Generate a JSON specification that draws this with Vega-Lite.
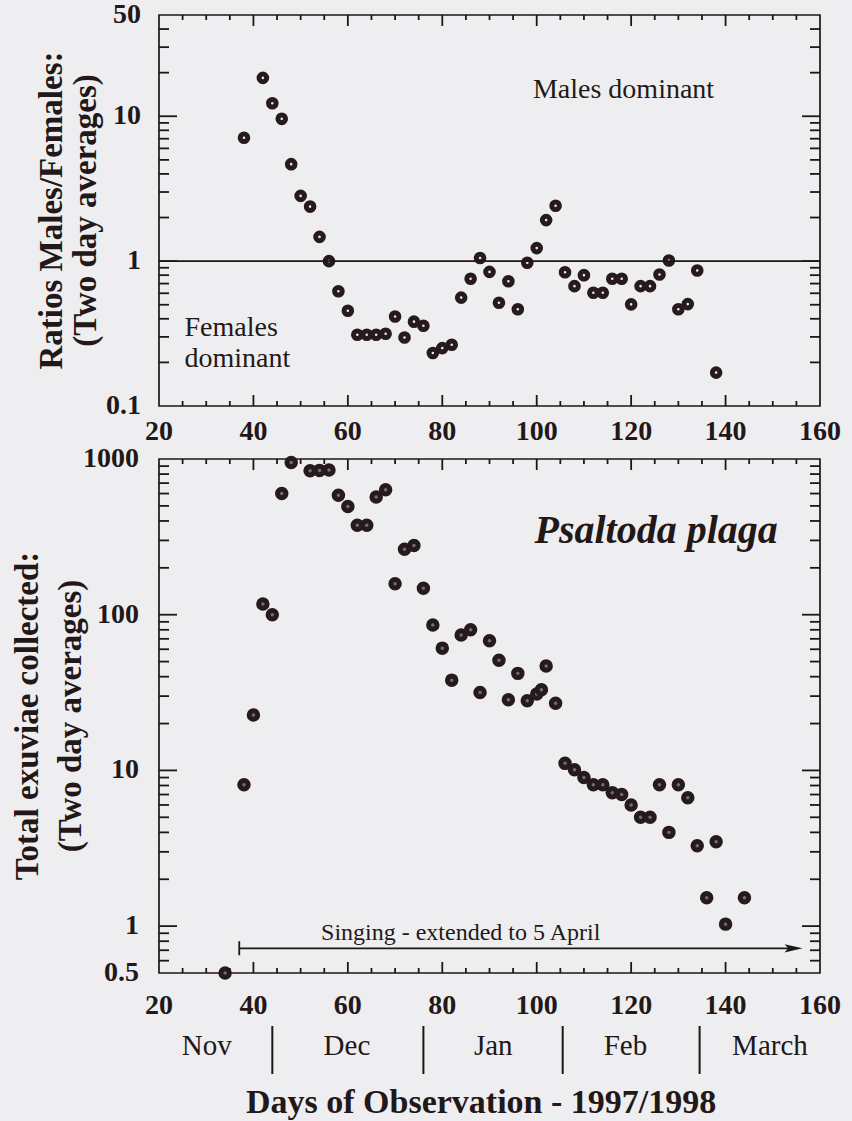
{
  "$schema": "https://vega.github.io/schema/vega-lite/v6.json",
  "autosize": {"type": "none"},
  "padding": {"left": 159, "top": 15, "right": 693, "bottom": 1106},
  "background": "#eeeef0",
  "config": {
    "view": {"stroke": "#1e1616", "strokeWidth": 1.7},
    "font": "Liberation Serif",
    "axis": {
      "domain": false, "ticks": false,
      "labelColor": "#231818", "titleColor": "#231818",
      "labelFont": "Liberation Serif", "titleFont": "Liberation Serif",
      "titleFontSize": 34, "titleFontWeight": "bold", "grid": false
    },
    "rule": {"color": "#1e1616", "strokeWidth": 1.8},
    "text": {"font": "Liberation Serif", "color": "#231818"}
  },
  "datasets": {
    "xmaj": [{"v": 40}, {"v": 60}, {"v": 80}, {"v": 100}, {"v": 120}, {"v": 140}],
    "xmin": [{"v": 25}, {"v": 30}, {"v": 35}, {"v": 45}, {"v": 50}, {"v": 55}, {"v": 65}, {"v": 70}, {"v": 75}, {"v": 85}, {"v": 90}, {"v": 95}, {"v": 105}, {"v": 110}, {"v": 115}, {"v": 125}, {"v": 130}, {"v": 135}, {"v": 145}, {"v": 150}, {"v": 155}],
    "xlab": [{"v": 20}, {"v": 40}, {"v": 60}, {"v": 80}, {"v": 100}, {"v": 120}, {"v": 140}, {"v": 160}],
    "ymajT": [{"v": 1}, {"v": 10}],
    "yminT": [{"v": 0.2}, {"v": 0.3}, {"v": 0.4}, {"v": 0.5}, {"v": 0.6}, {"v": 0.7}, {"v": 0.8}, {"v": 0.9}, {"v": 2}, {"v": 3}, {"v": 4}, {"v": 5}, {"v": 6}, {"v": 7}, {"v": 8}, {"v": 9}, {"v": 20}, {"v": 30}, {"v": 40}],
    "ylabT": [{"v": 0.1}, {"v": 1}, {"v": 10}, {"v": 50}],
    "ymajB": [{"v": 1}, {"v": 10}, {"v": 100}],
    "yminB": [{"v": 0.6}, {"v": 0.7}, {"v": 0.8}, {"v": 0.9}, {"v": 2}, {"v": 3}, {"v": 4}, {"v": 5}, {"v": 6}, {"v": 7}, {"v": 8}, {"v": 9}, {"v": 20}, {"v": 30}, {"v": 40}, {"v": 50}, {"v": 60}, {"v": 70}, {"v": 80}, {"v": 90}, {"v": 200}, {"v": 300}, {"v": 400}, {"v": 500}, {"v": 600}, {"v": 700}, {"v": 800}, {"v": 900}],
    "ylabB": [{"v": 0.5}, {"v": 1}, {"v": 10}, {"v": 100}, {"v": 1000}],
    "ratio": [
      {"day": 38, "ratio": 7.1}, {"day": 42, "ratio": 18.4}, {"day": 44, "ratio": 12.3}, {"day": 46, "ratio": 9.6},
      {"day": 48, "ratio": 4.67}, {"day": 50, "ratio": 2.82}, {"day": 52, "ratio": 2.38}, {"day": 54, "ratio": 1.47},
      {"day": 56, "ratio": 1.0}, {"day": 58, "ratio": 0.62}, {"day": 60, "ratio": 0.454}, {"day": 62, "ratio": 0.31},
      {"day": 64, "ratio": 0.31}, {"day": 66, "ratio": 0.31}, {"day": 68, "ratio": 0.315}, {"day": 70, "ratio": 0.415},
      {"day": 72, "ratio": 0.297}, {"day": 74, "ratio": 0.382}, {"day": 76, "ratio": 0.358}, {"day": 78, "ratio": 0.232},
      {"day": 80, "ratio": 0.251}, {"day": 82, "ratio": 0.265}, {"day": 84, "ratio": 0.56}, {"day": 86, "ratio": 0.755},
      {"day": 88, "ratio": 1.05}, {"day": 90, "ratio": 0.843}, {"day": 92, "ratio": 0.516}, {"day": 94, "ratio": 0.727},
      {"day": 96, "ratio": 0.465}, {"day": 98, "ratio": 0.975}, {"day": 100, "ratio": 1.23}, {"day": 102, "ratio": 1.92},
      {"day": 104, "ratio": 2.41}, {"day": 106, "ratio": 0.838}, {"day": 108, "ratio": 0.672}, {"day": 110, "ratio": 0.8},
      {"day": 112, "ratio": 0.605}, {"day": 114, "ratio": 0.605}, {"day": 116, "ratio": 0.755}, {"day": 118, "ratio": 0.755},
      {"day": 120, "ratio": 0.503}, {"day": 122, "ratio": 0.672}, {"day": 124, "ratio": 0.672}, {"day": 126, "ratio": 0.808},
      {"day": 128, "ratio": 1.01}, {"day": 130, "ratio": 0.465}, {"day": 132, "ratio": 0.505}, {"day": 134, "ratio": 0.862},
      {"day": 138, "ratio": 0.17}
    ],
    "total": [
      {"day": 34, "total": 0.5}, {"day": 38, "total": 8.1}, {"day": 40, "total": 22.7}, {"day": 42, "total": 117},
      {"day": 44, "total": 100}, {"day": 46, "total": 600}, {"day": 48, "total": 950}, {"day": 52, "total": 840},
      {"day": 54, "total": 845}, {"day": 56, "total": 850}, {"day": 58, "total": 585}, {"day": 60, "total": 495},
      {"day": 62, "total": 375}, {"day": 64, "total": 375}, {"day": 66, "total": 570}, {"day": 68, "total": 635},
      {"day": 70, "total": 158}, {"day": 72, "total": 263}, {"day": 74, "total": 278}, {"day": 76, "total": 148},
      {"day": 78, "total": 86}, {"day": 80, "total": 61}, {"day": 82, "total": 38}, {"day": 84, "total": 74},
      {"day": 86, "total": 80}, {"day": 88, "total": 31.7}, {"day": 90, "total": 68}, {"day": 92, "total": 51},
      {"day": 94, "total": 28.4}, {"day": 96, "total": 42}, {"day": 98, "total": 28}, {"day": 100, "total": 31},
      {"day": 101, "total": 33}, {"day": 102, "total": 46.8}, {"day": 104, "total": 27}, {"day": 106, "total": 11.1},
      {"day": 108, "total": 10.1}, {"day": 110, "total": 9.0}, {"day": 112, "total": 8.1}, {"day": 114, "total": 8.1},
      {"day": 116, "total": 7.2}, {"day": 118, "total": 7.0}, {"day": 120, "total": 6.0}, {"day": 122, "total": 5.0},
      {"day": 124, "total": 5.0}, {"day": 126, "total": 8.1}, {"day": 128, "total": 4.0}, {"day": 130, "total": 8.1},
      {"day": 132, "total": 6.67}, {"day": 134, "total": 3.28}, {"day": 136, "total": 1.52}, {"day": 138, "total": 3.48},
      {"day": 140, "total": 1.03}, {"day": 144, "total": 1.52}
    ]
  },
  "bounds": "flush",
  "spacing": 53,
  "vconcat": [
    {
      "width": 661, "height": 391,
      "layer": [
        {
          "data": {"name": "ratio"},
          "mark": {"type": "circle", "size": 58, "fill": "#e6e6e8", "stroke": "#261a1c", "strokeWidth": 5, "opacity": 1},
          "encoding": {
            "x": {"field": "day", "type": "quantitative",
              "scale": {"domain": [20, 160], "nice": false, "zero": false}, "axis": null},
            "y": {"field": "ratio", "type": "quantitative",
              "scale": {"type": "log", "domain": [0.1, 50], "nice": false}, "axis": null}
          }
        },
        {"data": {"name": "xlab"}, "mark": {"type": "text", "fontSize": 28, "fontWeight": "bold", "align": "center", "baseline": "top", "yOffset": 12},
          "encoding": {"x": {"field": "v", "type": "quantitative", "axis": null}, "y": {"datum": 0.1, "type": "quantitative", "axis": null},
            "text": {"field": "v", "type": "quantitative", "format": "d"}}},
        {"data": {"name": "ylabT"}, "mark": {"type": "text", "fontSize": 28, "fontWeight": "bold", "align": "right", "baseline": "middle", "xOffset": -18},
          "encoding": {"y": {"field": "v", "type": "quantitative", "axis": null}, "x": {"datum": 20, "type": "quantitative", "axis": null},
            "text": {"field": "v", "type": "quantitative", "format": "~g"}}},
        {"data": {"values": [{"v": 2.236}]},
          "mark": {"type": "text", "fontSize": 33, "fontWeight": "bold", "align": "center", "baseline": "middle", "angle": 270,
            "lineHeight": 34, "xOffset": -107, "text": ["Ratios Males/Females:", "(Two day averages)"]},
          "encoding": {"y": {"field": "v", "type": "quantitative", "axis": null}, "x": {"datum": 20, "type": "quantitative", "axis": null}}},
        {
          "data": {"values": [{"v": 1}]},
          "mark": {"type": "rule", "color": "#1e1616", "strokeWidth": 1.8},
          "encoding": {"y": {"field": "v", "type": "quantitative", "axis": null}}
        },
        {
          "data": {"values": [
            {"day": 99.2, "ratio": 13.3, "label": "Males dominant"},
            {"day": 25.4, "ratio": 0.303, "label": "Females"},
            {"day": 25.4, "ratio": 0.185, "label": "dominant"}
          ]},
          "mark": {"type": "text", "align": "left", "baseline": "alphabetic", "fontSize": 28},
          "encoding": {
            "x": {"field": "day", "type": "quantitative", "axis": null},
            "y": {"field": "ratio", "type": "quantitative", "axis": null},
            "text": {"field": "label"}
          }
        },
        {"data": {"name": "xmaj"}, "mark": {"type": "rule", "y2Offset": -11},
          "encoding": {"x": {"field": "v", "type": "quantitative", "axis": null}, "y": {"datum": 0.1, "type": "quantitative", "axis": null}, "y2": {"datum": 0.1}}},
        {"data": {"name": "xmin"}, "mark": {"type": "rule", "y2Offset": -5},
          "encoding": {"x": {"field": "v", "type": "quantitative", "axis": null}, "y": {"datum": 0.1, "type": "quantitative", "axis": null}, "y2": {"datum": 0.1}}},
        {"data": {"name": "xmaj"}, "mark": {"type": "rule", "y2Offset": 11},
          "encoding": {"x": {"field": "v", "type": "quantitative", "axis": null}, "y": {"datum": 50, "type": "quantitative", "axis": null}, "y2": {"datum": 50}}},
        {"data": {"name": "xmin"}, "mark": {"type": "rule", "y2Offset": 5},
          "encoding": {"x": {"field": "v", "type": "quantitative", "axis": null}, "y": {"datum": 50, "type": "quantitative", "axis": null}, "y2": {"datum": 50}}},
        {"data": {"name": "ymajT"}, "mark": {"type": "rule", "x2Offset": 18},
          "encoding": {"y": {"field": "v", "type": "quantitative", "axis": null}, "x": {"datum": 20, "type": "quantitative", "axis": null}, "x2": {"datum": 20}}},
        {"data": {"name": "yminT"}, "mark": {"type": "rule", "x2Offset": 10},
          "encoding": {"y": {"field": "v", "type": "quantitative", "axis": null}, "x": {"datum": 20, "type": "quantitative", "axis": null}, "x2": {"datum": 20}}},
        {"data": {"name": "ymajT"}, "mark": {"type": "rule", "x2Offset": -18},
          "encoding": {"y": {"field": "v", "type": "quantitative", "axis": null}, "x": {"datum": 160, "type": "quantitative", "axis": null}, "x2": {"datum": 160}}},
        {"data": {"name": "yminT"}, "mark": {"type": "rule", "x2Offset": -10},
          "encoding": {"y": {"field": "v", "type": "quantitative", "axis": null}, "x": {"datum": 160, "type": "quantitative", "axis": null}, "x2": {"datum": 160}}}
      ]
    },
    {
      "width": 661, "height": 514,
      "layer": [
        {
          "data": {"name": "total"},
          "mark": {"type": "circle", "size": 72, "fill": "#707072", "stroke": "#261a1c", "strokeWidth": 5, "opacity": 1},
          "encoding": {
            "x": {"field": "day", "type": "quantitative",
              "scale": {"domain": [20, 160], "nice": false, "zero": false}, "axis": null},
            "y": {"field": "total", "type": "quantitative",
              "scale": {"type": "log", "domain": [0.5, 1000], "nice": false}, "axis": null}
          }
        },
        {"data": {"name": "xlab"}, "mark": {"type": "text", "fontSize": 28, "fontWeight": "bold", "align": "center", "baseline": "top", "yOffset": 19},
          "encoding": {"x": {"field": "v", "type": "quantitative", "axis": null}, "y": {"datum": 0.5, "type": "quantitative", "axis": null},
            "text": {"field": "v", "type": "quantitative", "format": "d"}}},
        {"data": {"name": "ylabB"}, "mark": {"type": "text", "fontSize": 28, "fontWeight": "bold", "align": "right", "baseline": "middle", "xOffset": -20},
          "encoding": {"y": {"field": "v", "type": "quantitative", "axis": null}, "x": {"datum": 20, "type": "quantitative", "axis": null},
            "text": {"field": "v", "type": "quantitative", "format": "~g"}}},
        {"data": {"values": [{"v": 22.36}]},
          "mark": {"type": "text", "fontSize": 33, "fontWeight": "bold", "align": "center", "baseline": "middle", "angle": 270,
            "lineHeight": 43, "xOffset": -131, "text": ["Total exuviae collected:", "(Two day averages)"]},
          "encoding": {"y": {"field": "v", "type": "quantitative", "axis": null}, "x": {"datum": 20, "type": "quantitative", "axis": null}}},
        {
          "data": {"values": [{"day": 125.3, "total": 288, "label": "Psaltoda plaga"}]},
          "mark": {"type": "text", "align": "center", "baseline": "alphabetic", "fontSize": 40, "fontStyle": "italic", "fontWeight": "bold"},
          "encoding": {
            "x": {"field": "day", "type": "quantitative", "axis": null},
            "y": {"field": "total", "type": "quantitative", "axis": null},
            "text": {"field": "label"}
          }
        },
        {
          "data": {"values": [{"day": 83.9, "total": 0.81, "label": "Singing - extended to 5 April"}]},
          "mark": {"type": "text", "align": "center", "baseline": "alphabetic", "fontSize": 24},
          "encoding": {
            "x": {"field": "day", "type": "quantitative", "axis": null},
            "y": {"field": "total", "type": "quantitative", "axis": null},
            "text": {"field": "label"}
          }
        },
        {
          "data": {"values": [{"start": 37, "end": 154.6, "level": 0.72}]},
          "mark": {"type": "rule", "color": "#1e1616", "strokeWidth": 1.8},
          "encoding": {
            "x": {"field": "start", "type": "quantitative", "axis": null},
            "x2": {"field": "end"},
            "y": {"field": "level", "type": "quantitative", "axis": null}
          }
        },
        {
          "data": {"values": [{"start": 37, "low": 0.65, "high": 0.8}]},
          "mark": {"type": "rule", "color": "#1e1616", "strokeWidth": 1.8},
          "encoding": {
            "x": {"field": "start", "type": "quantitative", "axis": null},
            "y": {"field": "low", "type": "quantitative", "axis": null},
            "y2": {"field": "high"}
          }
        },
        {
          "data": {"values": [{"tip": 154.4, "level": 0.72}]},
          "mark": {"type": "point", "shape": "M-1,-0.45L1,0L-1,0.45L-0.6,0Z", "size": 324, "filled": true, "fill": "#1e1616", "stroke": null, "opacity": 1},
          "encoding": {
            "x": {"field": "tip", "type": "quantitative", "axis": null},
            "y": {"field": "level", "type": "quantitative", "axis": null}
          }
        },
        {"data": {"name": "xmaj"}, "mark": {"type": "rule", "y2Offset": -11},
          "encoding": {"x": {"field": "v", "type": "quantitative", "axis": null}, "y": {"datum": 0.5, "type": "quantitative", "axis": null}, "y2": {"datum": 0.5}}},
        {"data": {"name": "xmin"}, "mark": {"type": "rule", "y2Offset": -5},
          "encoding": {"x": {"field": "v", "type": "quantitative", "axis": null}, "y": {"datum": 0.5, "type": "quantitative", "axis": null}, "y2": {"datum": 0.5}}},
        {"data": {"name": "xmaj"}, "mark": {"type": "rule", "y2Offset": 11},
          "encoding": {"x": {"field": "v", "type": "quantitative", "axis": null}, "y": {"datum": 1000, "type": "quantitative", "axis": null}, "y2": {"datum": 1000}}},
        {"data": {"name": "xmin"}, "mark": {"type": "rule", "y2Offset": 5},
          "encoding": {"x": {"field": "v", "type": "quantitative", "axis": null}, "y": {"datum": 1000, "type": "quantitative", "axis": null}, "y2": {"datum": 1000}}},
        {"data": {"name": "ymajB"}, "mark": {"type": "rule", "x2Offset": 18},
          "encoding": {"y": {"field": "v", "type": "quantitative", "axis": null}, "x": {"datum": 20, "type": "quantitative", "axis": null}, "x2": {"datum": 20}}},
        {"data": {"name": "yminB"}, "mark": {"type": "rule", "x2Offset": 10},
          "encoding": {"y": {"field": "v", "type": "quantitative", "axis": null}, "x": {"datum": 20, "type": "quantitative", "axis": null}, "x2": {"datum": 20}}},
        {"data": {"name": "ymajB"}, "mark": {"type": "rule", "x2Offset": -18},
          "encoding": {"y": {"field": "v", "type": "quantitative", "axis": null}, "x": {"datum": 160, "type": "quantitative", "axis": null}, "x2": {"datum": 160}}},
        {"data": {"name": "yminB"}, "mark": {"type": "rule", "x2Offset": -10},
          "encoding": {"y": {"field": "v", "type": "quantitative", "axis": null}, "x": {"datum": 160, "type": "quantitative", "axis": null}, "x2": {"datum": 160}}}
      ]
    },
    {
      "width": 661, "height": 48,
      "view": {"stroke": null},
      "layer": [
        {
          "data": {"values": [{"day": 44}, {"day": 76}, {"day": 105.5}, {"day": 134.5}]},
          "mark": {"type": "rule", "color": "#1e1616", "strokeWidth": 2},
          "encoding": {
            "x": {"field": "day", "type": "quantitative",
              "scale": {"domain": [20, 160], "nice": false, "zero": false},
              "axis": {"orient": "bottom", "labels": false, "ticks": false, "domain": false,
                "title": "Days of Observation - 1997/1998",
                "titleX": 321.6, "titleY": 28, "titleBaseline": "middle"}},
            "y": {"datum": 0, "type": "quantitative", "scale": {"domain": [0, 1], "nice": false}, "axis": null},
            "y2": {"datum": 1}
          }
        },
        {
          "data": {"values": [
            {"day": 30.1, "month": "Nov"}, {"day": 59.8, "month": "Dec"}, {"day": 90.8, "month": "Jan"},
            {"day": 118.8, "month": "Feb"}, {"day": 149.4, "month": "March"}
          ]},
          "mark": {"type": "text", "align": "center", "baseline": "middle", "fontSize": 29},
          "encoding": {
            "x": {"field": "day", "type": "quantitative",
              "axis": {"orient": "bottom", "labels": false, "ticks": false, "domain": false,
                "title": "Days of Observation - 1997/1998",
                "titleX": 321.6, "titleY": 28, "titleBaseline": "middle"}},
            "y": {"datum": 0.58, "type": "quantitative", "axis": null},
            "text": {"field": "month"}
          }
        }
      ]
    }
  ]
}
